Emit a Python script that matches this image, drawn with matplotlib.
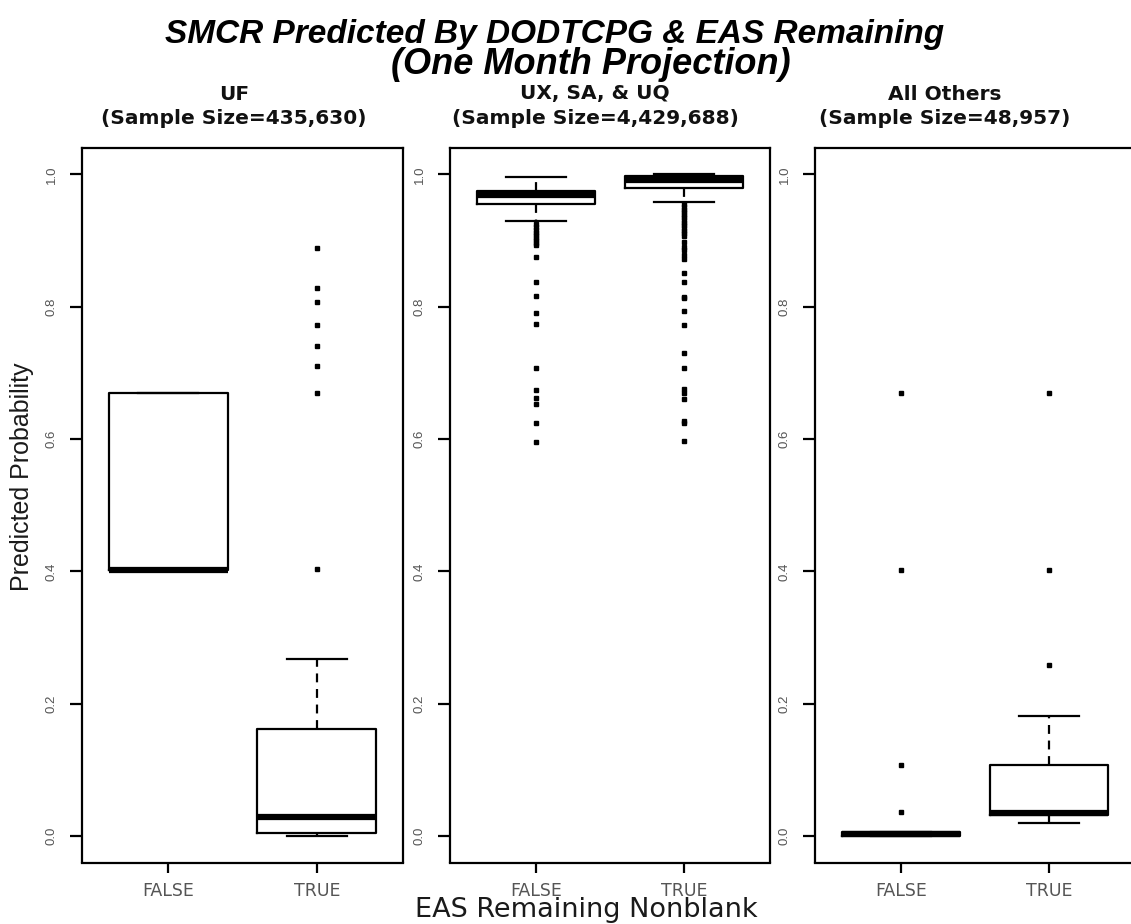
import matplotlib
matplotlib.use("Agg")
import matplotlib.pyplot as plt

# ---- data -------------------------------------------------------------
groups = ["FALSE", "TRUE"]
panel_names = ["UF", "UX, SA, & UQ", "All Others"]
sample_sizes = ["435,630", "4,429,688", "48,957"]
y_ticks = [0.0, 0.2, 0.4, 0.6, 0.8, 1.0]
y_tick_labels = ["0.0", "0.2", "0.4", "0.6", "0.8", "1.0"]

# UF: [FALSE, TRUE]
uf_q1 = [0.402, 0.004]
uf_med = [0.402, 0.029]
uf_q3 = [0.669, 0.162]
uf_lo = [0.402, 0.000]
uf_hi = [0.669, 0.267]
uf_false_out = []
uf_true_out = [0.889, 0.828, 0.807, 0.773, 0.740, 0.710, 0.670, 0.404]

# UX, SA, & UQ
ux_q1 = [0.955, 0.980]
ux_med = [0.969, 0.992]
ux_q3 = [0.975, 0.997]
ux_lo = [0.929, 0.959]
ux_hi = [0.996, 1.000]
ux_false_out = [0.925, 0.920, 0.916, 0.912, 0.908, 0.904, 0.901, 0.897,
                0.894, 0.875, 0.838, 0.816, 0.791, 0.774, 0.707, 0.674,
                0.662, 0.653, 0.625, 0.595]
ux_true_out = [0.955, 0.951, 0.947, 0.943, 0.939, 0.935, 0.931, 0.927,
               0.923, 0.919, 0.915, 0.911, 0.907, 0.898, 0.891, 0.886,
               0.878, 0.872, 0.851, 0.838, 0.815, 0.813, 0.793, 0.773,
               0.730, 0.707, 0.675, 0.669, 0.661, 0.627, 0.624, 0.597]

# All Others
oth_q1 = [0.000, 0.032]
oth_med = [0.003, 0.035]
oth_q3 = [0.006, 0.107]
oth_lo = [0.000, 0.019]
oth_hi = [0.006, 0.182]
oth_false_out = [0.670, 0.402, 0.108, 0.036]
oth_true_out = [0.670, 0.402, 0.259]


def make_stats(q1, med, q3, lo, hi, outs):
    return [dict(q1=q1[i], med=med[i], q3=q3[i], whislo=lo[i], whishi=hi[i],
                 fliers=outs[i], label=groups[i]) for i in range(len(groups))]


panels = [
    make_stats(uf_q1, uf_med, uf_q3, uf_lo, uf_hi, [uf_false_out, uf_true_out]),
    make_stats(ux_q1, ux_med, ux_q3, ux_lo, ux_hi, [ux_false_out, ux_true_out]),
    make_stats(oth_q1, oth_med, oth_q3, oth_lo, oth_hi, [oth_false_out, oth_true_out]),
]

# ---- layout (pixel based) ---------------------------------------------
W, H = 1131, 924
fig = plt.figure(figsize=(W / 100, H / 100), dpi=100)
fig.patch.set_facecolor("white")

NARROW = ["Liberation Sans", "DejaVu Sans"]
WIDE = ["DejaVu Sans"]
panel_lr = [(82, 403), (450, 770), (815, 1135)]
title_cx = [234, 595, 945]
ax_top, ax_bot = 148, 862.5

lw = 1.6
for k, ((l, r), stats) in enumerate(zip(panel_lr, panels)):
    ax = fig.add_axes([l / W, 1 - ax_bot / H, (r - l) / W, (ax_bot - ax_top) / H])
    ax.bxp(stats, positions=[1, 2], widths=0.8, capwidths=0.4,
           boxprops=dict(color="black", linewidth=lw),
           medianprops=dict(color="black", linewidth=4.5, solid_capstyle="butt"),
           whiskerprops=dict(color="black", linewidth=lw, linestyle=(0, (4, 3))),
           capprops=dict(color="black", linewidth=lw),
           flierprops=dict(marker="s", markersize=2.4, markerfacecolor="black",
                           markeredgecolor="black", linestyle="none"),
           manage_ticks=False)
    ax.set_xlim(0.42, 2.58)
    ax.set_ylim(-0.04, 1.04)
    ax.set_xticks([1, 2])
    ax.set_xticklabels(groups, fontsize=12.5, family=WIDE, color="#555555")
    ax.set_yticks(y_ticks)
    ax.set_yticklabels(y_tick_labels, fontsize=9.5, family=NARROW,
                       color="#555555", rotation=90, va="center")
    ax.tick_params(axis="x", length=7.5, width=lw, pad=6.5)
    ax.tick_params(axis="y", length=9, width=lw, pad=8.5)
    for sp in ax.spines.values():
        sp.set_linewidth(lw)
        sp.set_color("black")

    cx = title_cx[k]
    fig.text(cx / W, 1 - 94 / H, panel_names[k], ha="center", va="center",
             fontsize=14.5, fontweight="bold", family=WIDE, color="#111111")
    fig.text(cx / W, 1 - 118 / H, "(Sample Size=%s)" % sample_sizes[k],
             ha="center", va="center", fontsize=14.5, fontweight="bold",
             family=WIDE, color="#111111")

# ---- titles -----------------------------------------------------------
fig.text(555 / W, 1 - 43 / H, "SMCR Predicted By DODTCPG & EAS Remaining",
         ha="center", va="baseline", fontsize=24, fontweight="bold",
         fontstyle="italic", family=NARROW)
fig.text(591 / W, 1 - 74 / H, "(One Month Projection)",
         ha="center", va="baseline", fontsize=26, fontweight="bold",
         fontstyle="italic", family=NARROW)

fig.text(586 / W, 1 - 917 / H, "EAS Remaining Nonblank", ha="center",
         va="baseline", fontsize=19.5, family=WIDE, color="#1a1a1a")
fig.text(22 / W, 1 - 477 / H, "Predicted Probability", ha="center",
         va="center", rotation=90, fontsize=18, family=NARROW, color="#1a1a1a")

fig.savefig("out.png", dpi=100, facecolor="white")
